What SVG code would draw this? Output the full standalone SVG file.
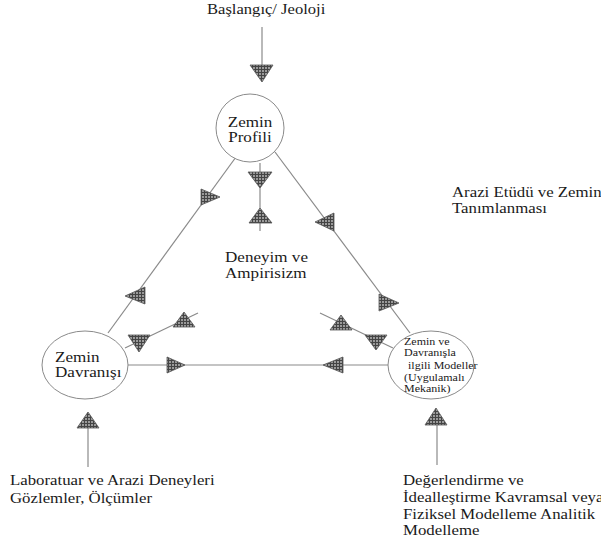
<svg xmlns="http://www.w3.org/2000/svg" width="601" height="545" viewBox="0 0 601 545">
<defs>
<pattern id="hatch" width="3" height="3" patternUnits="userSpaceOnUse">
<rect width="3" height="3" fill="#9a9a9a"/>
<path d="M0 0.5H3M0.5 0V3" stroke="#444" stroke-width="1"/>
</pattern>
<style>
.ln{stroke:#8a8a8a;stroke-width:1.2;fill:none}
.el{stroke:#8a8a8a;stroke-width:1;fill:#fff}
.ah{fill:url(#hatch);stroke:#555;stroke-width:0.8}
.t{font-family:"Liberation Serif","Times New Roman",serif;font-size:14px;fill:#1a1a1a}
.s{font-size:10px}
</style>
</defs>
<rect width="601" height="545" fill="#fff"/>
<g id="connectors">
<line class="ln" x1="262" y1="27" x2="262" y2="65"/>
<line class="ln" x1="260" y1="163" x2="260" y2="231"/>
<line class="ln" x1="108" y1="333" x2="236" y2="157"/>
<line class="ln" x1="275" y1="152" x2="410" y2="333"/>
<line class="ln" x1="125" y1="348" x2="198" y2="313"/>
<line class="ln" x1="320" y1="313" x2="393" y2="348"/>
<line class="ln" x1="128" y1="365" x2="388" y2="365"/>
<line class="ln" x1="88" y1="428" x2="88" y2="467"/>
<line class="ln" x1="437" y1="425" x2="437" y2="465"/>
<polygon class="ah" points="250,65 273,65 262,82"/>
<polygon class="ah" points="248,172 272,172 260,188"/>
<polygon class="ah" points="260,208 249,223 272,223"/>
<polygon class="ah" points="201,189 201,205 220,197"/>
<polygon class="ah" points="125,296 145,287 145,304"/>
<polygon class="ah" points="315,222 334,213 334,231"/>
<polygon class="ah" points="379,294 379,311 399,303"/>
<polygon class="ah" points="128,335 150,335 139,352"/>
<polygon class="ah" points="184,312 173,327 195,327"/>
<polygon class="ah" points="341,315 330,330 352,330"/>
<polygon class="ah" points="365,335 387,335 376,350"/>
<polygon class="ah" points="167,357 167,373 185,365"/>
<polygon class="ah" points="323,365 343,357 343,373"/>
<polygon class="ah" points="88,412 77,428 99,428"/>
<polygon class="ah" points="436,408 425,425 447,425"/>
</g>
<g id="start">
<text class="t" style="font-size:13.6px" transform="translate(207,14) scale(1.22 1)">Başlangıç/ Jeoloji</text>
</g>
<g id="zemin-profili">
<ellipse class="el" cx="250" cy="128" rx="34" ry="34"/>
<text class="t" text-anchor="middle" transform="translate(250,127) scale(1.22 1)">Zemin</text>
<text class="t" text-anchor="middle" transform="translate(250,142) scale(1.22 1)">Profili</text>
</g>
<g id="deneyim">
<text class="t" transform="translate(225,262) scale(1.22 1)">Deneyim ve</text>
<text class="t" transform="translate(225,278) scale(1.22 1)">Ampirisizm</text>
</g>
<g id="arazi-etudu">
<text class="t" transform="translate(452,197) scale(1.2 1)">Arazi Etüdü ve Zemin</text>
<text class="t" transform="translate(452,213) scale(1.2 1)">Tanımlanması</text>
</g>
<g id="zemin-davranisi">
<ellipse class="el" cx="85" cy="365" rx="43" ry="34"/>
<text class="t" transform="translate(55,362) scale(1.22 1)">Zemin</text>
<text class="t" transform="translate(55,377) scale(1.22 1)">Davranışı</text>
</g>
<g id="modeller">
<ellipse class="el" cx="431" cy="365" rx="43" ry="34"/>
<text class="t s" transform="translate(404,345) scale(1.2 1)">Zemin ve</text>
<text class="t s" transform="translate(404,356) scale(1.2 1)">Davranışla</text>
<text class="t s" transform="translate(408,369) scale(1.2 1)">ilgili Modeller</text>
<text class="t s" transform="translate(404,381) scale(1.2 1)">(Uygulamalı</text>
<text class="t s" transform="translate(404,392) scale(1.2 1)">Mekanik)</text>
</g>
<g id="laboratuar">
<text class="t" transform="translate(10,485) scale(1.2 1)">Laboratuar ve Arazi Deneyleri</text>
<text class="t" transform="translate(10,503) scale(1.2 1)">Gözlemler, Ölçümler</text>
</g>
<g id="degerlendirme">
<text class="t" transform="translate(403,485) scale(1.2 1)">Değerlendirme ve</text>
<text class="t" transform="translate(403,502) scale(1.2 1)">İdealleştirme Kavramsal veya</text>
<text class="t" transform="translate(403,519) scale(1.2 1)">Fiziksel Modelleme Analitik</text>
<text class="t" transform="translate(403,535) scale(1.2 1)">Modelleme</text>
</g>
</svg>
